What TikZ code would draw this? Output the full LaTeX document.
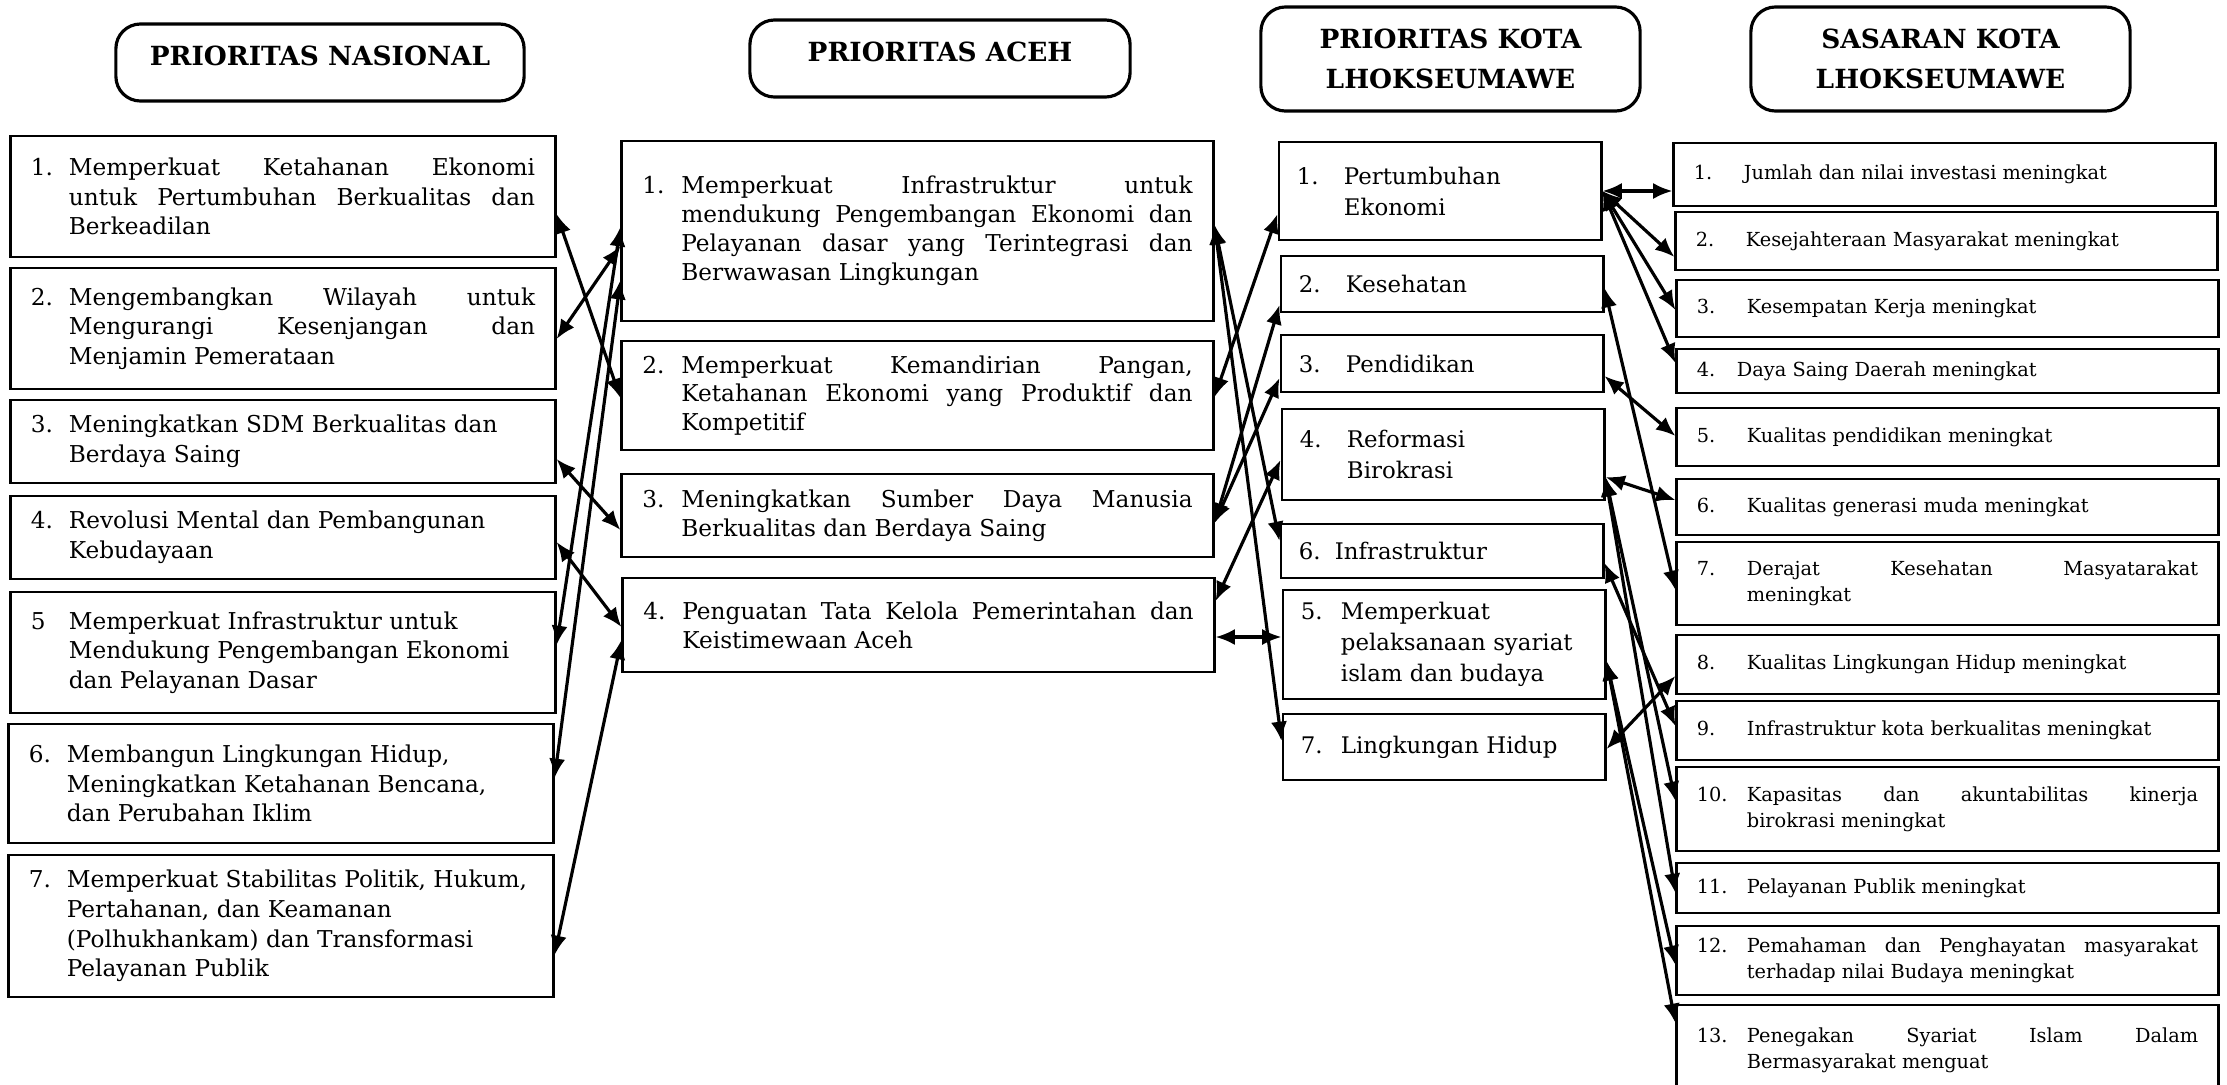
\documentclass[tikz,border=0pt]{standalone}
\usepackage{fontspec}
\setmainfont{DejaVu Serif}
\usetikzlibrary{arrows.meta}
\tikzset{>=Latex}
\tolerance=9999
\hyphenpenalty=10000
\tikzset{hdr/.style = {draw, rounded corners=7pt, line width=0.9pt, inner sep=0pt, align=center, font=\bfseries\fontsize{7.5}{11.4}\selectfont}}
\tikzset{box/.style = {draw, line width=0.8pt, inner sep=0pt}}
\tikzset{nas/.style = {box, minimum width=5.44cm, text width=5.04cm, font=\fontsize{6.6}{8.4}\selectfont}}
\tikzset{aceh/.style = {box, minimum width=5.91cm, text width=5.50cm, font=\fontsize{6.6}{8.2}\selectfont}}
\tikzset{kota/.style = {box, minimum width=3.22cm, text width=2.86cm, font=\fontsize{6.5}{8.8}\selectfont}}
\tikzset{sas/.style = {box, minimum width=5.41cm, text width=5.01cm, font=\fontsize{5.5}{7.4}\selectfont}}
\tikzset{edge/.style = {{Latex[length=5.5pt,width=4.6pt]}-{Latex[length=5.5pt,width=4.6pt]}, line width=0.9pt}}
\newcommand{\nitem}[3]{\makebox[#1][l]{#2}\parbox[t]{\dimexpr\linewidth-#1\relax}{\spaceskip=0.32em plus 4em minus 0.08em\relax #3}}

\begin{document}
\begin{tikzpicture}[x=0.01cm, y=-0.01cm]
            \useasboundingbox (0,0) rectangle (2227,1084);

            % Headers
            \node[hdr, minimum width=4.08cm, minimum height=0.77cm, text depth=0.13cm] (hnas) at (320,62.5) {PRIORITAS NASIONAL};
            \node[hdr, minimum width=3.80cm, minimum height=0.77cm, text depth=0.13cm] (haceh) at (940,58.5) {PRIORITAS ACEH};
            \node[hdr, minimum width=3.79cm, minimum height=1.04cm] (hkota) at (1450.5,59) {PRIORITAS KOTA\\LHOKSEUMAWE};
            \node[hdr, minimum width=3.79cm, minimum height=1.04cm] (hsas) at (1940.5,59) {SASARAN KOTA\\LHOKSEUMAWE};

            % Prioritas Nasional
            \node[nas, minimum height=1.21cm] (n1) at (283,196.5) {\nitem{0.38cm}{1.}{Memperkuat Ketahanan Ekonomi \linebreak untuk Pertumbuhan Berkualitas dan \linebreak Berkeadilan}};
            \node[nas, minimum height=1.21cm] (n2) at (283,328.5) {\nitem{0.38cm}{2.}{Mengembangkan Wilayah untuk \linebreak Mengurangi Kesenjangan dan \linebreak Menjamin Pemerataan}};
            \node[nas, minimum height=0.83cm] (n3) at (283,441.5) {\nitem{0.38cm}{3.}{Meningkatkan SDM Berkualitas dan\\ Berdaya Saing}};
            \node[nas, minimum height=0.83cm] (n4) at (283,537.5) {\nitem{0.38cm}{4.}{Revolusi Mental dan Pembangunan\\ Kebudayaan}};
            \node[nas, minimum height=1.21cm] (n5) at (283,652.5) {\nitem{0.38cm}{5}{Memperkuat Infrastruktur untuk\\ Mendukung Pengembangan Ekonomi\\ dan Pelayanan Dasar}};
            \node[nas, minimum height=1.19cm] (n6) at (281,783.5) {\nitem{0.38cm}{6.}{Membangun Lingkungan Hidup,\\ Meningkatkan Ketahanan Bencana,\\ dan Perubahan Iklim}};
            \node[nas, minimum height=1.42cm] (n7) at (281,926) {\nitem{0.38cm}{7.}{Memperkuat Stabilitas Politik, Hukum,\\ Pertahanan, dan Keamanan\\ (Polhukhankam) dan Transformasi\\ Pelayanan Publik}};

            % Prioritas Aceh
            \node[aceh, minimum height=1.80cm] (a1) at (917.5,231) {\nitem{0.39cm}{1.}{Memperkuat Infrastruktur untuk \linebreak mendukung Pengembangan Ekonomi dan \linebreak Pelayanan dasar yang Terintegrasi dan \linebreak Berwawasan Lingkungan}};
            \node[aceh, minimum height=1.09cm] (a2) at (917.5,395.5) {\nitem{0.39cm}{2.}{Memperkuat Kemandirian Pangan, \linebreak Ketahanan Ekonomi yang Produktif dan \linebreak Kompetitif}};
            \node[aceh, minimum height=0.83cm] (a3) at (917.5,515.5) {\nitem{0.39cm}{3.}{Meningkatkan Sumber Daya Manusia \linebreak Berkualitas dan Berdaya Saing}};
            \node[aceh, minimum height=0.94cm] (a4) at (918.5,625) {\nitem{0.39cm}{4.}{Penguatan Tata Kelola Pemerintahan dan \linebreak Keistimewaan Aceh}};

            % Prioritas Kota
            \node[kota, minimum height=0.98cm] (k1) at (1440,191) {\nitem{0.47cm}{1.}{Pertumbuhan\\ Ekonomi}};
            \node[kota, minimum height=0.56cm] (k2) at (1442,284) {\nitem{0.47cm}{2.}{Kesehatan}};
            \node[kota, minimum height=0.57cm] (k3) at (1442,363.5) {\nitem{0.47cm}{3.}{Pendidikan}};
            \node[kota, minimum height=0.91cm] (k4) at (1443,454.5) {\nitem{0.47cm}{4.}{Reformasi\\ Birokrasi}};
            \node[kota, minimum height=0.54cm] (k6) at (1442,551) {\nitem{0.36cm}{6.}{Infrastruktur}};
            \node[kota, minimum height=1.09cm] (k5) at (1444,644.5) {\nitem{0.40cm}{5.}{Memperkuat\\ pelaksanaan syariat\\ islam dan budaya}};
            \node[kota, minimum height=0.66cm] (k7) at (1444,747) {\nitem{0.40cm}{7.}{Lingkungan Hidup}};

            % Sasaran Kota
            \node[sas, minimum height=0.63cm] (s1) at (1944.5,174.5) {\nitem{0.50cm}{1.}{Jumlah dan nilai investasi meningkat}};
            \node[sas, minimum height=0.58cm] (s2) at (1946.5,241) {\nitem{0.50cm}{2.}{Kesejahteraan Masyarakat meningkat}};
            \node[sas, minimum height=0.57cm] (s3) at (1947.5,308.5) {\nitem{0.50cm}{3.}{Kesempatan Kerja meningkat}};
            \node[sas, minimum height=0.44cm] (s4) at (1947.5,371) {\nitem{0.40cm}{4.}{Daya Saing Daerah meningkat}};
            \node[sas, minimum height=0.58cm] (s5) at (1947.5,437) {\nitem{0.50cm}{5.}{Kualitas pendidikan meningkat}};
            \node[sas, minimum height=0.56cm] (s6) at (1947.5,507) {\nitem{0.50cm}{6.}{Kualitas generasi muda meningkat}};
            \node[sas, minimum height=0.83cm] (s7) at (1947.5,583.5) {\nitem{0.50cm}{7.}{Derajat Kesehatan Masyatarakat \linebreak meningkat}};
            \node[sas, minimum height=0.59cm] (s8) at (1947.5,664.5) {\nitem{0.50cm}{8.}{Kualitas Lingkungan Hidup meningkat}};
            \node[sas, minimum height=0.59cm] (s9) at (1947.5,730.5) {\nitem{0.50cm}{9.}{Infrastruktur kota berkualitas meningkat}};
            \node[sas, minimum height=0.84cm] (s10) at (1947.5,809) {\nitem{0.50cm}{10.}{Kapasitas dan akuntabilitas kinerja \linebreak birokrasi meningkat}};
            \node[sas, minimum height=0.50cm] (s11) at (1947.5,888) {\nitem{0.50cm}{11.}{Pelayanan Publik meningkat}};
            \node[sas, minimum height=0.69cm] (s12) at (1947.5,960.5) {\nitem{0.50cm}{12.}{Pemahaman dan Penghayatan masyarakat \linebreak terhadap nilai Budaya meningkat}};
            \node[sas, minimum height=0.90cm] (s13) at (1947.5,1050) {\nitem{0.50cm}{13.}{Penegakan Syariat Islam Dalam \linebreak Bermasyarakat menguat}};

            % Edges
            % nasional - aceh
            \draw[edge] (n1.east |- 0,214) -- (a2.west |- 0,398);
            \draw[edge] (n2.east |- 0,339) -- (a1.west |- 0,246);
            \draw[edge] (n5.east |- 0,645) -- (a1.west |- 0,227);
            \draw[edge] (n6.east |- 0,778) -- (a1.west |- 0,280);
            \draw[edge] (n3.east |- 0,459) -- (a3.west |- 0,530);
            \draw[edge] (n4.east |- 0,542) -- (a4.west |- 0,627);
            \draw[edge] (n7.east |- 0,955) -- (a4.west |- 0,640);

            % aceh - kota
            \draw[edge] (a2.east |- 0,397) -- (k1.west |- 0,214);
            \draw[edge] (a3.east |- 0,523) -- (k2.west |- 0,305);
            \draw[edge] (a3.east |- 0,523) -- (k3.west |- 0,378);
            \draw[edge] (a4.east |- 0,601) -- (k4.west |- 0,460);
            \draw[edge] (a4.east |- 0,637) -- (k5.west |- 0,637);
            \draw[edge] (a1.east |- 0,225) -- (k6.west |- 0,541);
            \draw[edge] (a1.east |- 0,225) -- (k7.west |- 0,741);

            % kota - sasaran
            \draw[edge] (k1.east |- 0,191) -- (s1.west |- 0,191);
            \draw[edge] (k1.east |- 0,191) -- (s2.west |- 0,257);
            \draw[edge] (k1.east |- 0,191) -- (s3.west |- 0,310);
            \draw[edge] (k1.east |- 0,191) -- (s4.west |- 0,363);
            \draw[edge] (k2.east |- 0,288) -- (s7.west |- 0,590);
            \draw[edge] (k3.east |- 0,376) -- (s5.west |- 0,436);
            \draw[edge] (k4.east |- 0,477) -- (s6.west |- 0,500);
            \draw[edge] (k4.east |- 0,477) -- (s10.west |- 0,801);
            \draw[edge] (k4.east |- 0,477) -- (s11.west |- 0,893);
            \draw[edge] (k6.east |- 0,563) -- (s9.west |- 0,726);
            \draw[edge] (k7.east |- 0,749) -- (s8.west |- 0,676);
            \draw[edge] (k5.east |- 0,661) -- (s12.west |- 0,965);
            \draw[edge] (k5.east |- 0,661) -- (s13.west |- 0,1023);
        \end{tikzpicture}
\end{document}
